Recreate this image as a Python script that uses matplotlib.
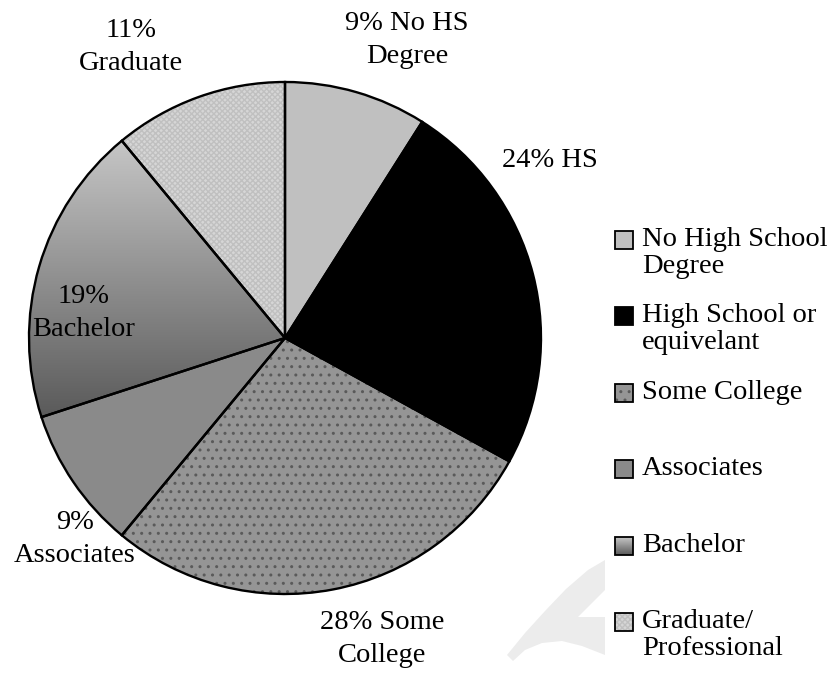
'''
Education level pie chart
- six wedges, percent labels, legend on the right
'''

import matplotlib
matplotlib.use('Agg')
import matplotlib.pyplot as plt
from matplotlib.patches import Rectangle, Polygon
from matplotlib.colors import LinearSegmentedColormap
import numpy as np

# data
categories = ['No High School\nDegree', 'High School or\nequivelant', 'Some College',
              'Associates', 'Bachelor', 'Graduate/\nProfessional']
shares = [9, 24, 28, 9, 19, 11]
slice_labels = ['9% No HS\nDegree', '24% HS', '28% Some\nCollege',
                '9%\nAssociates', '19%\nBachelor', '11%\nGraduate']

# styles
fills = ['#c0c0c0', '#000000', '#959595', '#8a8a8a', '#8f8f8f', '#d6d6d6']
hatches = [None, None, '..', None, None, 'xxxxxx']
hatch_colors = [None, None, '#5a5a5a', None, None, '#c0c0c0']
FONT = 'Liberation Serif'
FS = 20.5

W, H = 834, 674
cx, cy, r = 285, 338, 256
pad = 1.02

fig = plt.figure(figsize=(W / 100, H / 100), dpi=100)

# faint watermark fragment behind everything
bg = fig.add_axes([0, 0, 1, 1], zorder=0)
bg.set_xlim(0, W)
bg.set_ylim(H, 0)
bg.axis('off')
mark = [(507, 655), (513, 661), (525, 650), (542, 643), (562, 641), (582, 646),
        (605, 655), (605, 617), (578, 617), (605, 590), (605, 560), (588, 570),
        (566, 589), (545, 611), (525, 633)]
bg.add_patch(Polygon(mark, closed=True, facecolor='#ececec', lw=0))

ax = fig.add_axes([(cx - r * pad) / W, (H - cy - r * pad) / H,
                   2 * r * pad / W, 2 * r * pad / H], zorder=1)

wedges, _ = ax.pie(shares, colors=fills, startangle=90, counterclock=False,
                   wedgeprops=dict(linewidth=0))
for w, h, hc in zip(wedges, hatches, hatch_colors):
    if h:
        w.set_hatch(h)
        w.set_edgecolor(hc)

# gradient fill for the Bachelor wedge
grad_cmap = LinearSegmentedColormap.from_list('g', ['#c6c6c6', '#5a5a5a'])
bb = wedges[4].get_path().get_extents()
grad = np.linspace(0, 1, 256).reshape(-1, 1)
im = ax.imshow(grad, cmap=grad_cmap, extent=(bb.x0, bb.x1, bb.y0, bb.y1),
               origin='upper', aspect='auto', zorder=2)
im.set_clip_path(wedges[4])

# outlines on top
ax.pie(shares, startangle=90, counterclock=False,
       wedgeprops=dict(fill=False, linewidth=1.7, edgecolor='black', zorder=5))

# label positions (data coords)
label_xy = [(0.477, 1.164), (1.035, 0.695), (0.379, -1.176),
            (-0.82, -0.785), (-0.785, 0.098), (-0.602, 1.137)]
for (x, y), lab in zip(label_xy, slice_labels):
    ax.text(x, y, lab, ha='center', va='center', fontsize=FS, family=FONT,
            linespacing=1.42, zorder=6)

ax.set_xlim(-pad, pad)
ax.set_ylim(-pad, pad)
ax.axis('off')

# legend drawn in pixel coords
lax = fig.add_axes([0, 0, 1, 1], zorder=2)
lax.patch.set_alpha(0)
lax.axis('off')

for i, lab in enumerate(categories):
    y = 240 + i * 76.4
    box = (615, y - 9)
    if i == 4:
        lax.imshow(grad, cmap=grad_cmap, extent=(615, 633, y + 9, y - 9),
                   aspect='auto', zorder=2)
    else:
        lax.add_patch(Rectangle(box, 18, 18, facecolor=fills[i], lw=0, zorder=2))
    if hatches[i]:
        lax.add_patch(Rectangle(box, 18, 18, facecolor='none', lw=0,
                                edgecolor=hatch_colors[i], hatch=hatches[i], zorder=3))
    lax.add_patch(Rectangle(box, 18, 18, fill=False, edgecolor='black', lw=1.3, zorder=4))
    lax.text(642, y - 13, lab, ha='left', va='top', fontsize=FS, family=FONT,
             linespacing=1.1)
lax.set_xlim(0, W)
lax.set_ylim(H, 0)

plt.savefig('out.png', dpi=100, facecolor='white')
